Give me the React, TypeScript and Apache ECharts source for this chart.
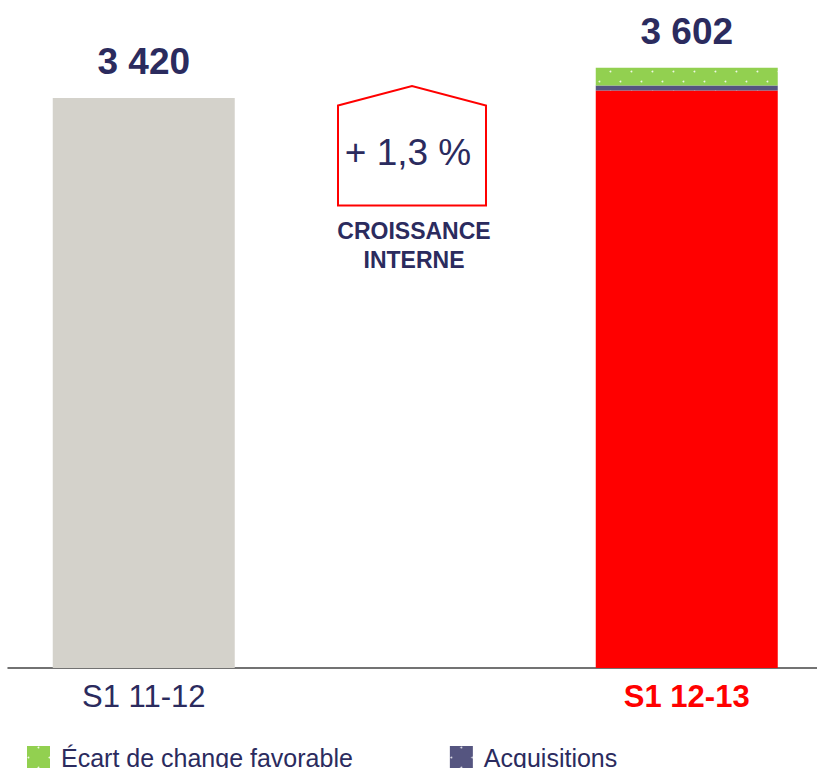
import React, { useEffect, useRef } from "react";
import * as echarts from "echarts";

const categories = ["S1 11-12", "", "S1 12-13"];
const baseValues = [3420, "-", "-"];
const organicValues = ["-", "-", 3465];
const acquisitionValues = ["-", "-", 30];
const fxValues = ["-", "-", 107];
const totals = [3420, null, 3602];
const growthLabel = "+ 1,3 %";
const growthCaption = ["CROISSANCE", "INTERNE"];
const legendNames = ["Écart de change favorable", "Acquisitions"];

const NAVY = "#2b2b5e";
const fmt = (v: number) => String(v).replace(/\B(?=(\d{3})+(?!\d))/g, " ");

export default function App() {
  const ref = useRef<HTMLDivElement>(null);
  useEffect(() => {
    const chart = echarts.init(ref.current!, null, { renderer: "svg" });
    const totalLabel = {
      show: true,
      position: "top",
      distance: 18,
      fontFamily: "Liberation Sans",
      fontSize: 37,
      fontWeight: "bold",
      color: NAVY,
      formatter: (p: any) => (totals[p.dataIndex] != null ? fmt(totals[p.dataIndex] as number) : ""),
    };
    const decal = {
      symbol: "circle",
      symbolSize: 0.6,
      color: "rgba(255,255,255,0.85)",
      dashArrayX: [[3, 18], [0, 10, 3, 8]],
      dashArrayY: [3, 7],
      rotation: 0,
    };
    chart.setOption({
      animation: false,
      textStyle: { fontFamily: "Liberation Sans" },
      grid: { left: 8, width: 814.5, top: 1.33, bottom: 100 },
      xAxis: {
        type: "category",
        data: categories,
        axisTick: { show: false },
        axisLine: { lineStyle: { color: "#444", width: 1.5 } },
        axisLabel: {
          margin: 13,
          formatter: (v: string, i: number) => (i === 2 ? `{r|${v}}` : `{n|${v}}`),
          rich: {
            n: { fontSize: 31, color: NAVY, fontFamily: "Liberation Sans" },
            r: { fontSize: 31, color: "#ff0000", fontWeight: "bold", fontFamily: "Liberation Sans" },
          },
        },
      },
      yAxis: { type: "value", min: 0, max: 4000, show: false, splitLine: { show: false } },
      legend: {
        data: legendNames,
        left: 27,
        top: 745,
        padding: 0,
        icon: "rect",
        itemWidth: 23,
        itemHeight: 23,
        itemGap: 97,
        textStyle: { fontSize: 25, color: NAVY, fontFamily: "Liberation Sans", padding: [0, 0, 0, 6] },
      },
      series: [
        {
          name: "base",
          type: "bar",
          stack: "t",
          barWidth: 182,
          data: baseValues,
          itemStyle: { color: "#d4d2cb" },
          label: totalLabel,
        },
        {
          name: "Croissance interne",
          type: "bar",
          stack: "t",
          barWidth: 182,
          data: organicValues,
          itemStyle: { color: "#ff0000" },
        },
        {
          name: "Acquisitions",
          type: "bar",
          stack: "t",
          barWidth: 182,
          data: acquisitionValues,
          itemStyle: { color: "#555580", decal },
        },
        {
          name: "Écart de change favorable",
          type: "bar",
          stack: "t",
          barWidth: 182,
          data: fxValues,
          itemStyle: { color: "#92d050", decal },
          label: totalLabel,
        },
      ],
      graphic: [
        {
          type: "polygon",
          shape: { points: [[338, 105.5], [412, 86], [486, 105.5], [486, 205.5], [338, 205.5]] },
          style: { fill: "none", stroke: "#ff0000", lineWidth: 2 },
        },
        {
          type: "text",
          x: 408,
          y: 152,
          style: {
            text: growthLabel,
            font: "37px 'Liberation Sans'",
            fill: NAVY,
            align: "center",
            verticalAlign: "middle",
          },
        },
        {
          type: "text",
          x: 414,
          y: 231,
          style: {
            text: growthCaption[0],
            font: "bold 23px 'Liberation Sans'",
            fill: NAVY,
            align: "center",
            verticalAlign: "middle",
          },
        },
        {
          type: "text",
          x: 414,
          y: 259.5,
          style: {
            text: growthCaption[1],
            font: "bold 23px 'Liberation Sans'",
            fill: NAVY,
            align: "center",
            verticalAlign: "middle",
          },
        },
      ],
    });
    return () => chart.dispose();
  }, []);
  return (
    <div style={{ width: 817, height: 768, position: "absolute", left: 0, top: 0, overflow: "hidden" }}>
      <div ref={ref} style={{ width: 823, height: 768 }} />
    </div>
  );
}
